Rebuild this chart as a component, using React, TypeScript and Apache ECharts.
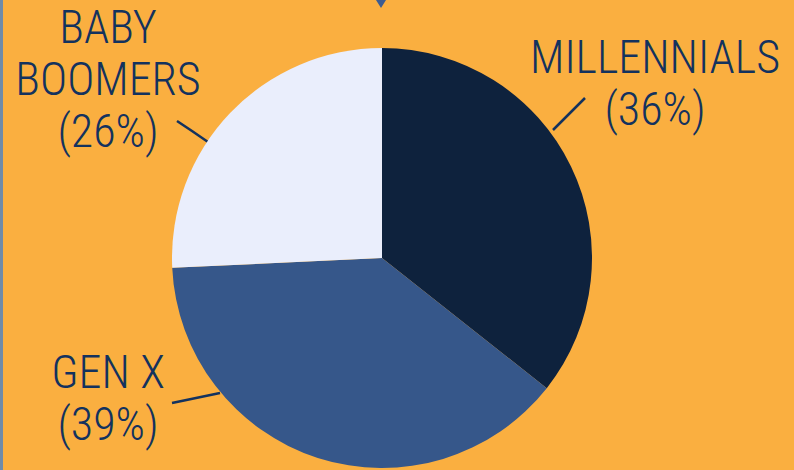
import React, { useEffect, useRef } from "react";
import * as echarts from "echarts";

// Data
const categories = ["MILLENNIALS", "GEN X", "BABY\nBOOMERS"];
const shares = [36, 39, 26];

// Colours / layout (not data)
const sliceColors = ["#0E223D", "#36578A", "#EAEEFC"];
const TEXT = "#13325E";
const FONT = "'Roboto Condensed','Liberation Sans Narrow','DejaVu Sans Condensed','Roboto',sans-serif";
const labelCenters: [number, number][] = [
  [655, 83],
  [108, 398],
  [108, 79],
];
const leaderLines: [number, number][][] = [
  [[553, 130], [569, 114], [585, 98]],
  [[220, 393], [196, 398], [172, 403]],
  [[208, 142], [192, 131], [177, 121]],
];

export default function App() {
  const ref = useRef<HTMLDivElement>(null);
  useEffect(() => {
    document.body.style.margin = "0";
    if (!ref.current) return;
    const chart = echarts.init(ref.current, undefined, { renderer: "svg" });
    chart.setOption({
      animation: false,
      backgroundColor: "#FAAF40",
      graphic: [
        { type: "rect", shape: { x: 0, y: 0, width: 3, height: 470 }, style: { fill: "#6F8BAA" } },
        { type: "polygon", shape: { points: [[376, 0], [386, 0], [381, 8]] }, style: { fill: "#3B5C92" } },
      ],
      series: [
        {
          type: "pie",
          center: [382, 258],
          radius: 210,
          startAngle: 90,
          clockwise: true,
          data: categories.map((c, i) => ({
            name: c,
            value: shares[i],
            itemStyle: { color: sliceColors[i] },
          })),
          label: {
            show: true,
            position: "outside",
            formatter: (p: any) => `${p.name}\n(${p.value}%)`,
            color: TEXT,
            fontFamily: FONT,
            fontWeight: 300,
            fontSize: 46,
            lineHeight: 52,
            align: "center",
            overflow: "none",
            width: 400,
          },
          labelLine: {
            show: true,
            lineStyle: { color: TEXT, width: 2.5 },
          },
          labelLayout: (p: any) => ({
            x: labelCenters[p.dataIndex][0],
            y: labelCenters[p.dataIndex][1],
            align: "center",
            verticalAlign: "middle",
            labelLinePoints: leaderLines[p.dataIndex],
          }),
          emphasis: { disabled: true },
        },
      ],
    });
    return () => chart.dispose();
  }, []);
  return <div ref={ref} style={{ width: 794, height: 470 }} />;
}
